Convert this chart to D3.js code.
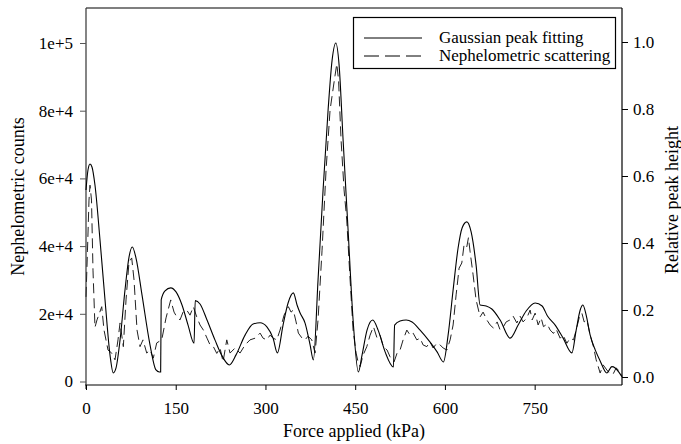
<!DOCTYPE html>
<html>
<head>
<meta charset="utf-8">
<script src="https://cdn.jsdelivr.net/npm/d3@7"></script>
<style>
  body { margin: 0; background: #fff; }
  svg { font-family: "Liberation Serif", "DejaVu Serif", serif; }
</style>
</head>
<body>
<svg id="chart"></svg>
<script>
'use strict';

// Gaussian peak fitting (relative peak height, right axis)
let gaussForce = [0, 3.3, 6.7, 10, 15, 23.4, 31.8, 40.1, 45.6, 50.2, 56.9, 65.2, 71.9, 77.4, 83.6, 93.6, 107, 117, 122.6, 124.8,
    125.7, 132.1, 141.6, 150.5, 160.5, 170.6, 180.6, 182.6, 190.6, 202.3, 215.7, 227.4, 239.6, 250.8, 265.9, 279.3, 291, 302.7, 312.7,
    319.9, 329.4, 337.8, 346.6, 352.8, 357.9, 366.2, 374.6, 380.1, 387.9, 396.3, 404.7, 411.4, 417.6, 423.1, 429.8, 438.1, 446.5,
    455.3, 461.5, 469.8, 479.4, 488.3, 500, 513.9, 515.9, 525, 535.1, 545.1, 558.5, 575.2, 586.9, 597.5, 605.3, 613.7, 622, 628.7,
    636.6, 643.8, 652.1, 658.8, 668.9, 678.4, 692.3, 709, 722.4, 735.8, 750.8, 762.5, 771.4, 784.3, 797.6, 812.2, 819.4, 826.1,
    830.6, 836.1, 842.8, 851.2, 859.5, 870.7, 879.1, 884.6, 890.1, 895.8];
let gaussHeight = [0.558, 0.618, 0.636, 0.627, 0.573, 0.409, 0.230, 0.066, 0.012, 0.027, 0.11, 0.26, 0.358, 0.388, 0.355, 0.245, 0.096, 0.021, 0.015, 0.015,
    0.23, 0.257, 0.266, 0.254, 0.215, 0.155, 0.101, 0.228, 0.218, 0.17, 0.11, 0.063, 0.036, 0.066, 0.125, 0.158, 0.162, 0.149, 0.116,
    0.072, 0.155, 0.221, 0.251, 0.215, 0.191, 0.161, 0.096, 0.051, 0.29, 0.558, 0.797, 0.946, 0.997, 0.931, 0.707, 0.439, 0.17,
    0.015, 0.066, 0.14, 0.17, 0.14, 0.075, 0.03, 0.155, 0.167, 0.17, 0.164, 0.14, 0.104, 0.075, 0.045, 0.125, 0.26, 0.385, 0.445,
    0.463, 0.433, 0.334, 0.215, 0.212, 0.203, 0.17, 0.116, 0.155, 0.197, 0.221, 0.212, 0.182, 0.155, 0.116, 0.072, 0.14, 0.2,
    0.215, 0.185, 0.125, 0.081, 0.048, 0.012, 0.031, 0.027, 0.016, 0.001];

// Nephelometric scattering (counts, left axis)
let nephForce = [0, 2.5, 5, 6.7, 9.2, 11.7, 15, 18.4, 26.3, 30.1, 36.8, 43, 48.5, 53.5, 56.9, 62.4, 66.9, 71.9, 76.4, 80.3, 85.3,
    90.3, 95.3, 101.5, 107, 112.5, 118.2, 126.6, 133.8, 141.6, 147.2, 151.7, 157.2, 162.2, 168.4, 173.9, 179.4, 185.1, 190.6, 196.2,
    202.3, 207.4, 212.9, 218.6, 224.1, 229.1, 235.3, 240.8, 249.2, 257.5, 265.9, 274.2, 282.6, 291, 296, 302.2, 307.7, 312.7, 318.9,
    324.4, 331.1, 338.3, 342.8, 346.6, 351.2, 355, 361.2, 366.2, 371.2, 377.4, 382.9, 387.9, 394.6, 401.3, 408, 413.5, 416.4, 419.2,
    422.2, 426.4, 431.4, 435.9, 441.5, 446.5, 451.5, 454.8, 458.2, 463.2, 469.4, 474.9, 480.5, 486.6, 491.6, 497.1, 503.3, 508.3,
    515, 520, 525, 530.1, 536.3, 541.8, 546.8, 553, 558.5, 563.5, 569.7, 575.2, 580.2, 586.4, 592, 597, 603.2, 608.7, 613.7, 618.7,
    623.7, 628.2, 632.1, 636.6, 639.3, 642.1, 647.1, 652.1, 658.8, 663.8, 670, 675.5, 681.1, 687.3, 692.3, 697.8, 702.3, 709, 714,
    720.2, 725.7, 730.7, 736.9, 742.4, 745.8, 750.8, 755.8, 760.8, 764.7, 770.9, 775.9, 781.4, 785.9, 792.6, 797.6, 803.8, 809.3,
    814.9, 819.4, 824.4, 828.9, 832.8, 837.3, 842.8, 848.3, 852.8, 859.5, 864.5, 870.7, 876.2, 881.7, 886.2, 892.9, 896.3];
let nephCounts = [25000, 38800, 53600, 58000, 53600, 32900, 16000, 18200, 22100, 15200, 9300, 8400, 6400, 12300, 17300, 10300, 24100, 35300, 36500, 30000, 15200,
    10300, 12300, 8400, 9300, 6900, 11400, 12300, 18800, 24100, 20500, 19100, 18200, 20500, 21100, 19600, 22100, 19100, 16700, 15200,
    12800, 10800, 10300, 8300, 9900, 5800, 12300, 8400, 9900, 8400, 10800, 12300, 12800, 14300, 12800, 12300, 13700, 12800, 12300,
    15200, 19600, 22100, 20500, 21100, 17600, 14300, 12800, 12300, 13400, 12300, 8400, 18200, 38800, 62500, 80200, 87000, 90500, 93800,
    89000, 71300, 56600, 47700, 30000, 15200, 8400, 5800, 4400, 7800, 10300, 13700, 16200, 12800, 13700, 10300, 9300, 7300,
    5800, 8400, 9300, 12300, 15200, 13700, 14300, 12300, 12800, 10800, 10300, 11700, 9900, 11300, 10800, 9900, 9300, 12300, 16700, 25600,
    33500, 35000, 40600, 39800, 42500, 38300, 31500, 24100, 19100, 20500, 18200, 16700, 15800, 17600, 15200, 16200, 17600, 18200, 19300,
    17300, 19300, 17600, 18800, 21100, 18200, 20200, 16700, 18800, 16200, 17000, 15200, 14200, 15500, 12800, 13700, 11300, 12800,
    12300, 15200, 18800, 20200, 17600, 18200, 13700, 10300, 6400, 2500, 4900, 3400, 2200, 2400, 4000, 2900, 1400];

let forceTicks = [0, 150, 300, 450, 600, 750];
let countTicks = [0, 20000, 40000, 60000, 80000, 100000];
let countLabels = ["0", "2e+4", "4e+4", "6e+4", "8e+4", "1e+5"];
let heightTicks = [0, 0.2, 0.4, 0.6, 0.8, 1.0];
let legendNames = ["Gaussian peak fitting", "Nephelometric scattering"];

function getChartConfig() {
    let width = 681, height = 444;
    let plot = { left: 86, right: 622, top: 8, bottom: 385 };
    let svg = d3.select("#chart")
        .attr("width", width)
        .attr("height", height);
    return { width, height, plot, svg };
}

function getScales(config) {
    let { plot } = config;
    let xScale = d3.scaleLinear().domain([0, 896]).range([plot.left, plot.right]);
    let yCounts = d3.scaleLinear().domain([0, 100000]).range([381.5, 43]);
    let yHeight = d3.scaleLinear().domain([0, 1]).range([377, 42]);
    return { xScale, yCounts, yHeight };
}

function drawFrame(config) {
    let { svg, plot } = config;
    let g = svg.append("g").attr("stroke", "#000").attr("stroke-width", 1.2);
    g.append("line").attr("x1", plot.left).attr("x2", plot.right).attr("y1", plot.top).attr("y2", plot.top);
    g.append("line").attr("x1", plot.right).attr("x2", plot.right).attr("y1", plot.top).attr("y2", plot.bottom);
    g.append("line").attr("x1", plot.left - 1).attr("x2", plot.right).attr("y1", plot.bottom).attr("y2", plot.bottom);
    g.append("line").attr("x1", plot.left).attr("x2", plot.left).attr("y1", plot.top).attr("y2", plot.bottom + 4)
        .attr("stroke", "#333");
}

function styleTicks(sel) {
    sel.style("font-size", "17px")
        .attr("fill", "#000")
        .attr("font-family", "Liberation Serif");
}

function drawAxes(config, scales) {
    let { svg, plot } = config;
    let { xScale, yCounts, yHeight } = scales;

    let xAxis = d3.axisBottom(xScale).tickValues(forceTicks).tickSize(5).tickPadding(12);
    svg.append("g")
        .attr("transform", "translate(0," + plot.bottom + ")")
        .call(xAxis)
        .call(g => g.select(".domain").remove())
        .selectAll("text")
        .call(styleTicks);

    let leftAxis = d3.axisLeft(yCounts).tickValues(countTicks).tickSize(6).tickPadding(7)
        .tickFormat((d, i) => countLabels[i]);
    svg.append("g")
        .attr("transform", "translate(" + plot.left + ",0)")
        .call(leftAxis)
        .call(g => g.select(".domain").remove())
        .call(g => g.selectAll("line").attr("stroke", "#555"))
        .selectAll("text")
        .call(styleTicks);

    let rightAxis = d3.axisRight(yHeight).tickValues(heightTicks).tickSize(6).tickPadding(5)
        .tickFormat(d3.format(".1f"));
    svg.append("g")
        .attr("transform", "translate(" + plot.right + ",0)")
        .call(rightAxis)
        .call(g => g.select(".domain").remove())
        .selectAll("text")
        .call(styleTicks);

    svg.append("text")
        .attr("x", (plot.left + plot.right) / 2)
        .attr("y", 437)
        .attr("text-anchor", "middle")
        .style("font-size", "18px")
        .text("Force applied (kPa)");

    svg.append("text")
        .attr("transform", "translate(24," + ((plot.top + plot.bottom) / 2) + ") rotate(-90)")
        .attr("text-anchor", "middle")
        .style("font-size", "18px")
        .text("Nephelometric counts");

    svg.append("text")
        .attr("transform", "translate(678,200) rotate(-90)")
        .attr("text-anchor", "middle")
        .style("font-size", "18px")
        .text("Relative peak height");
}

function drawLines(config, scales) {
    let { svg } = config;
    let { xScale, yCounts, yHeight } = scales;

    let nephData = nephForce.map((f, i) => ({ x: f, y: nephCounts[i] }));
    let gaussData = gaussForce.map((f, i) => ({ x: f, y: gaussHeight[i] }));

    let nephLine = d3.line()
        .x(d => xScale(d.x))
        .y(d => yCounts(d.y));

    let gaussLine = d3.line()
        .x(d => xScale(d.x))
        .y(d => yHeight(d.y))
        .curve(d3.curveMonotoneX);

    svg.append("path")
        .datum(nephData)
        .attr("d", nephLine)
        .attr("fill", "none")
        .attr("stroke", "#222")
        .attr("stroke-width", 1)
        .style("stroke-dasharray", "10, 5");

    svg.append("path")
        .datum(gaussData)
        .attr("d", gaussLine)
        .attr("fill", "none")
        .attr("stroke", "#000")
        .attr("stroke-width", 1.1);
}

function drawLegend(config) {
    let { svg } = config;
    svg.append("rect")
        .attr("x", 353.5).attr("y", 17.5)
        .attr("width", 262).attr("height", 51)
        .attr("fill", "#fff")
        .attr("stroke", "#000")
        .attr("stroke-width", 1.2);

    let items = svg.selectAll(".legendItem")
        .data(legendNames)
        .enter().append("g")
        .attr("class", "legendItem")
        .attr("transform", (d, i) => "translate(0," + (38 + i * 18) + ")");

    items.append("line")
        .attr("x1", 364).attr("x2", 422)
        .attr("y1", 0).attr("y2", 0)
        .attr("stroke", "#000")
        .attr("stroke-width", 1)
        .style("stroke-dasharray", (d, i) => i == 1 ? "15, 6" : null);

    items.append("text")
        .attr("x", 439)
        .attr("y", 5)
        .style("font-size", "17px")
        .text(d => d);
}

function drawChart() {
    let config = getChartConfig();
    let scales = getScales(config);
    drawFrame(config);
    drawLines(config, scales);
    drawAxes(config, scales);
    drawLegend(config);
}

drawChart();
</script>
</body>
</html>
